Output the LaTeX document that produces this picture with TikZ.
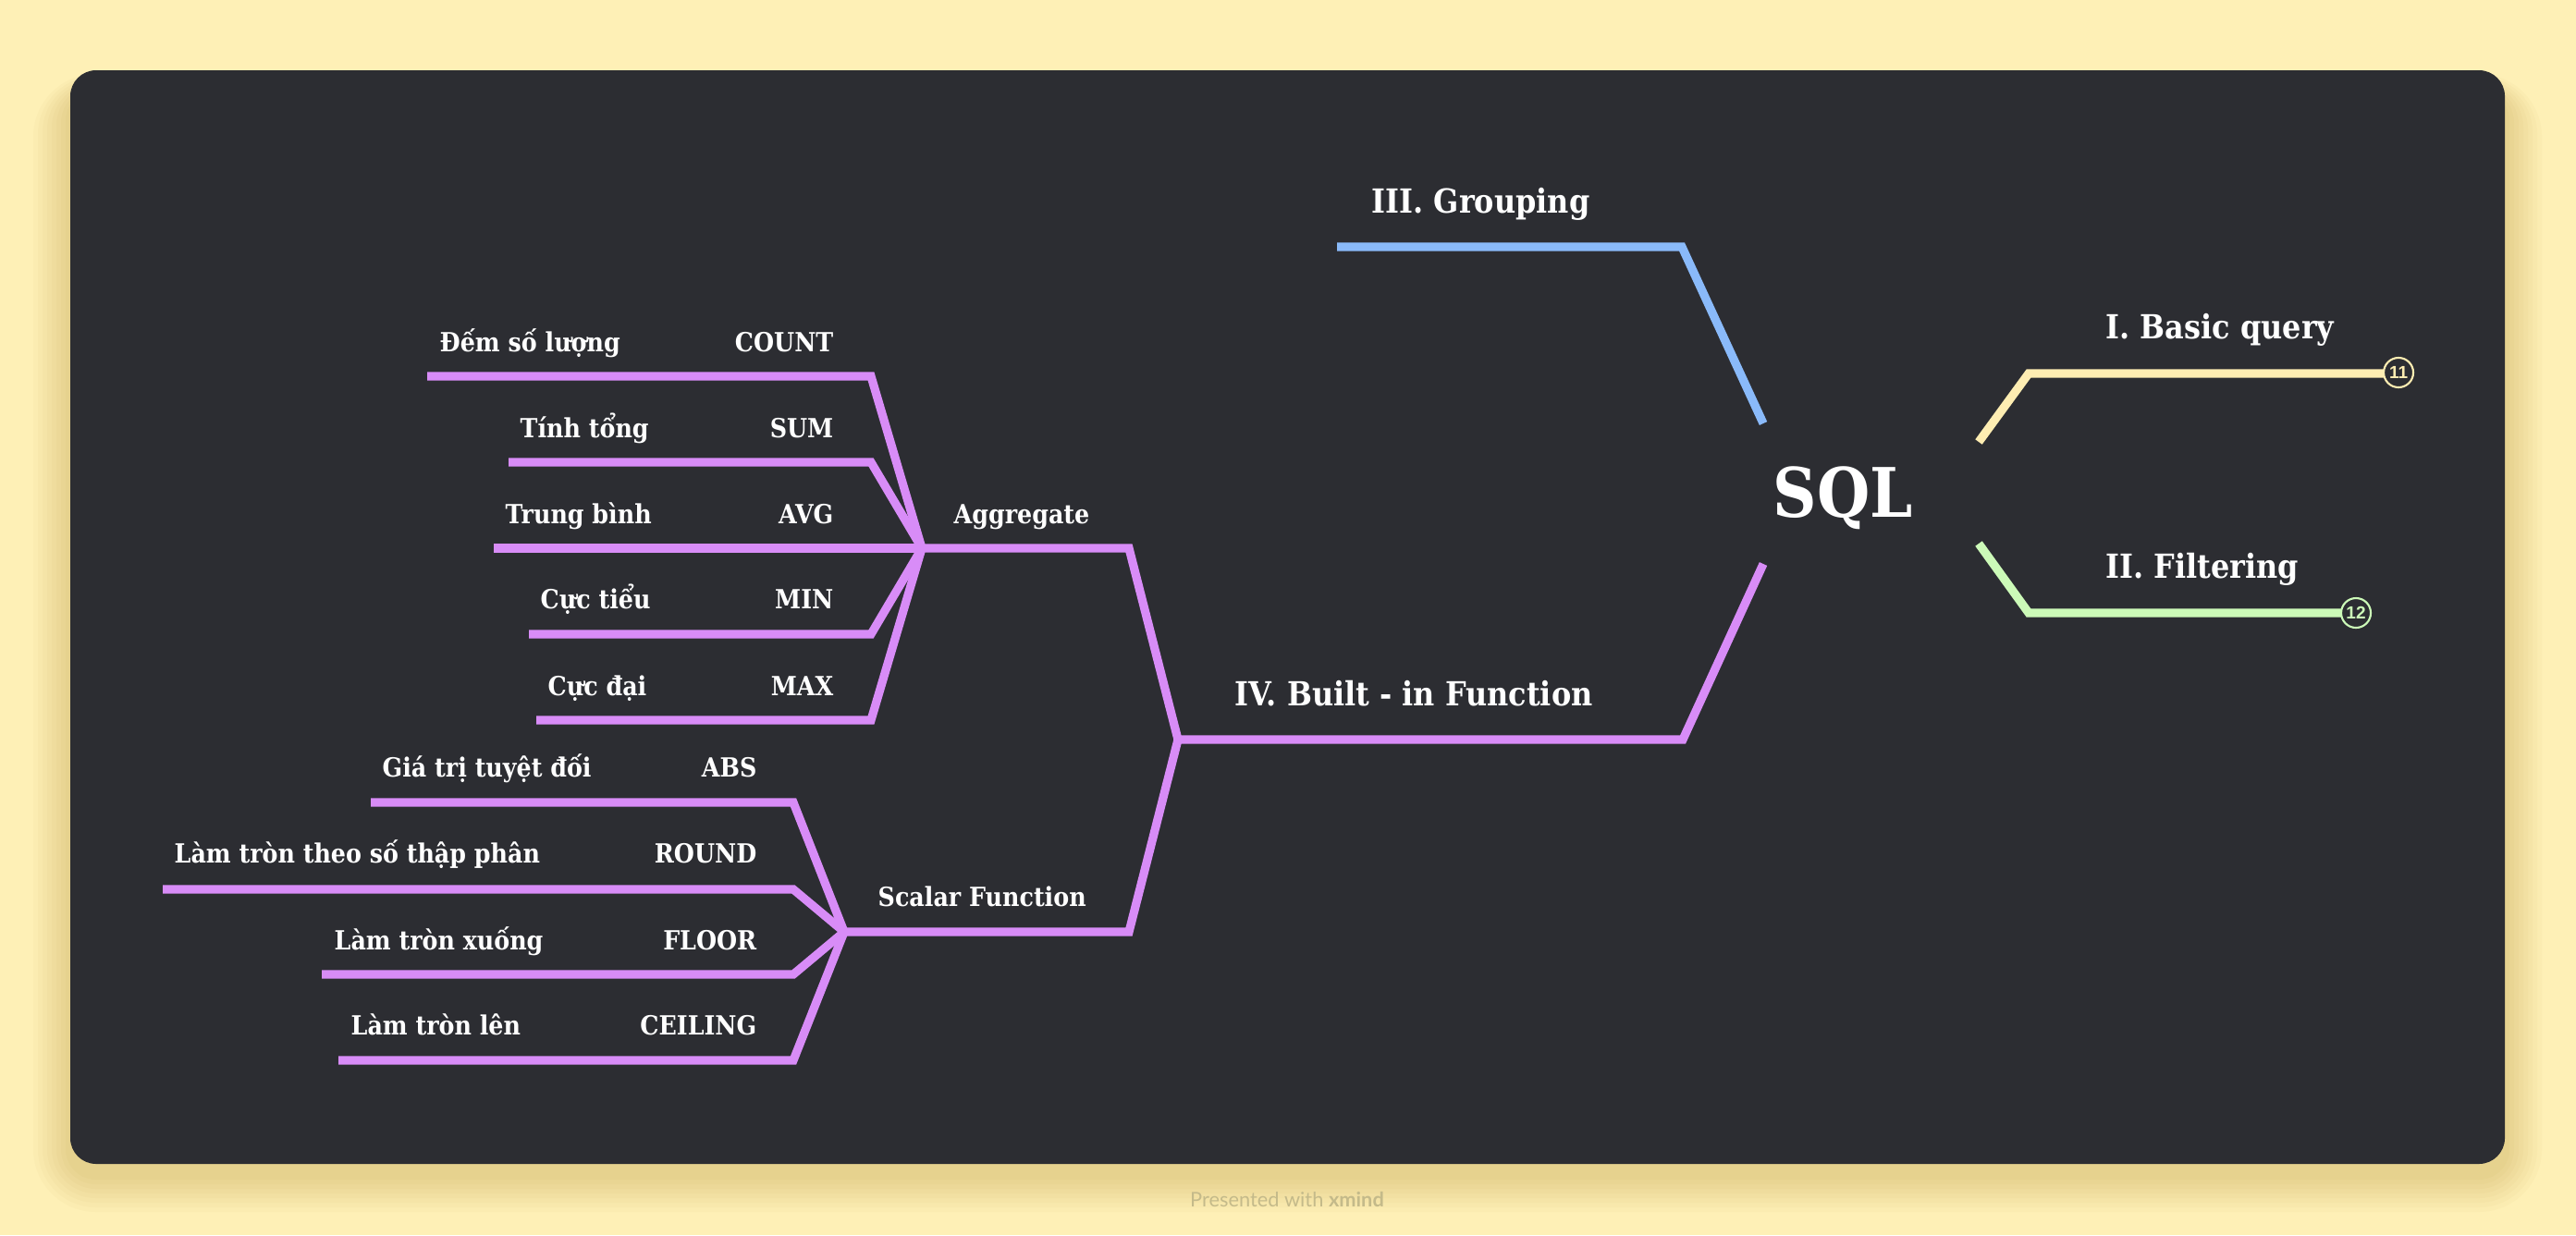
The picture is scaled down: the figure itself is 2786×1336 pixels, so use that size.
\documentclass[tikz,border=0pt]{standalone}
\usepackage{fontspec}
\setmainfont{DejaVu Serif}[FakeStretch=0.89]
\newfontfamily\footfont{Lato}
\newfontfamily\badgefont{Liberation Sans}
\usepackage{tikz}
\usetikzlibrary{positioning}

\definecolor{bgyellow}{RGB}{254,240,182}
\definecolor{shadowtan}{RGB}{150,110,0}
\definecolor{canvas}{RGB}{44,45,50}
\definecolor{purp}{RGB}{216,140,247}
\definecolor{sky}{RGB}{138,186,250}
\definecolor{cream}{RGB}{254,237,178}
\definecolor{mint}{RGB}{204,250,184}
\definecolor{footgray}{RGB}{196,186,138}

\begin{document}
\begin{tikzpicture}[
  x=0.01cm, y=-0.01cm,
  root/.style={text=white, inner sep=0pt, anchor=base,
    font=\bfseries\fontsize{21}{24}\selectfont},
  main/.style={text=white, inner sep=0pt, anchor=base west,
    font=\bfseries\fontsize{10.2}{12}\selectfont},
  sub/.style={text=white, inner sep=0pt, anchor=base west,
    font=\bfseries\fontsize{8.1}{10}\selectfont},
  fn/.style={sub, anchor=base east},
  branch/.style={line width=0.092cm, line join=miter},
  badge/.style={circle, draw, line width=0.6pt, fill=canvas,
    minimum size=0.32cm, inner sep=0pt,
    font=\badgefont\bfseries\fontsize{5.4}{6}\selectfont},
]
  \fill[bgyellow] (0,0) rectangle (2786,1336);
  \useasboundingbox (0,0) rectangle (2786,1336);
  \foreach \e in {5,10,...,40}
    \fill[shadowtan, opacity=0.026, rounded corners={0.28cm+\e*0.01cm}]
      (76-\e,100-\e/2) rectangle (2709+\e,1271+\e);
  \fill[canvas, rounded corners=0.28cm] (76,76) rectangle (2709,1259);

  \node[root] (sql) at (1993,559) {SQL};

  \node[main] (grp)   at (1483,230) {III. Grouping};
  \node[main] (basic) at (2277,366) {I. Basic query};
  \node[main] (filt)  at (2277,625) {II. Filtering};
  \node[main] (built) at (1335,763) {IV. Built - in Function};

  \node[sub] (agg)  at (1031,566) {Aggregate};
  \node[sub] (scal) at (949,980)  {Scalar Function};

  \node[sub] (cnt-vi) at (475,380) {Đếm số lượng};
  \node[fn]  (cnt)    at (902,380) {COUNT};
  \node[sub] (sum-vi) at (562,473) {Tính tổng};
  \node[fn]  (sum)    at (902,473) {SUM};
  \node[sub] (avg-vi) at (546,566) {Trung bình};
  \node[fn]  (avg)    at (902,566) {AVG};
  \node[sub] (min-vi) at (584,658) {Cực tiểu};
  \node[fn]  (min)    at (902,658) {MIN};
  \node[sub] (max-vi) at (592,752) {Cực đại};
  \node[fn]  (max)    at (902,752) {MAX};

  \node[sub] (abs-vi)   at (413,840)  {Giá trị tuyệt đối};
  \node[fn]  (abs)      at (819,840)  {ABS};
  \node[sub] (round-vi) at (188,933)  {Làm tròn theo số thập phân};
  \node[fn]  (round)    at (819,933)  {ROUND};
  \node[sub] (floor-vi) at (361,1027) {Làm tròn xuống};
  \node[fn]  (floor)    at (819,1027) {FLOOR};
  \node[sub] (ceil-vi)  at (379,1119) {Làm tròn lên};
  \node[fn]  (ceil)     at (819,1119) {CEILING};

  \coordinate (grp-l) at (1446,267);
  \coordinate (grp-k) at (1819,267);
  \coordinate (grp-r) at (1907,458);
  \coordinate (basic-r) at (2140,478);
  \coordinate (basic-k) at (2194,404);
  \coordinate (filt-r)  at (2140,588);
  \coordinate (filt-k)  at (2194,663);
  \coordinate (built-r) at (1907,610);
  \coordinate (built-k) at (1820,800);
  \coordinate (built-f) at (1274,800);
  \coordinate (agg-k)  at (1221,593);
  \coordinate (agg-f)  at (997,593);
  \coordinate (scal-k) at (1221,1008);
  \coordinate (scal-f) at (913,1008);

  \coordinate (cnt-l) at (462,407);  \coordinate (cnt-k) at (942,407);
  \coordinate (sum-l) at (550,500);  \coordinate (sum-k) at (942,500);
  \coordinate (avg-l) at (534,593);
  \coordinate (min-l) at (572,686);  \coordinate (min-k) at (942,686);
  \coordinate (max-l) at (580,779);  \coordinate (max-k) at (942,779);
  \coordinate (abs-l)   at (401,868);  \coordinate (abs-k)   at (858,868);
  \coordinate (round-l) at (176,962);  \coordinate (round-k) at (858,962);
  \coordinate (floor-l) at (348,1054); \coordinate (floor-k) at (858,1054);
  \coordinate (ceil-l)  at (366,1147); \coordinate (ceil-k)  at (858,1147);

  \draw[branch, sky]   (grp-l) -- (grp-k) -- (grp-r);
  \draw[branch, purp]  (built-r) -- (built-k) -- (built-f);
  \draw[branch, cream] (basic-r) -- (basic-k) -- (2578,404);
  \draw[branch, mint]  (filt-r) -- (filt-k) -- (2532,663);
  \node[badge, draw=cream, text=cream] (b11) at (2594,403) {11};
  \node[badge, draw=mint, text=mint]   (b12) at (2548,663) {12};

  \draw[branch, purp] (built-f) -- (agg-k) -- (agg-f);
  \draw[branch, purp] (built-f) -- (scal-k) -- (scal-f);

  \draw[branch, purp] (cnt-l) -- (cnt-k) -- (agg-f);
  \draw[branch, purp] (sum-l) -- (sum-k) -- (agg-f);
  \draw[branch, purp] (avg-l) -- (agg-f);
  \draw[branch, purp] (min-l) -- (min-k) -- (agg-f);
  \draw[branch, purp] (max-l) -- (max-k) -- (agg-f);

  \draw[branch, purp] (abs-l) -- (abs-k) -- (scal-f);
  \draw[branch, purp] (round-l) -- (round-k) -- (scal-f);
  \draw[branch, purp] (floor-l) -- (floor-k) -- (scal-f);
  \draw[branch, purp] (ceil-l) -- (ceil-k) -- (scal-f);

  \node[text=footgray, anchor=base, font=\footfont\fontsize{6.2}{7}\selectfont]
    (foot) at (1392,1305) {Presented with \textbf{xmind}};
\end{tikzpicture}
\end{document}
